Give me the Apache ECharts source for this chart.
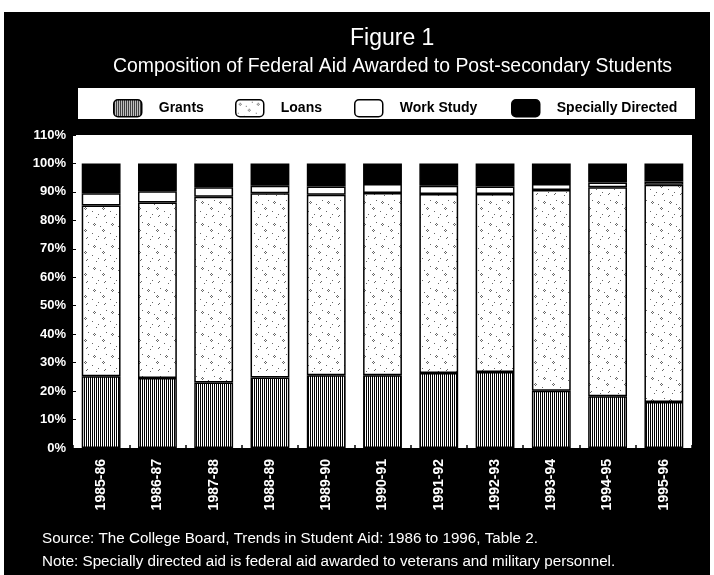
<!DOCTYPE html>
<html>
<head>
<meta charset="utf-8">
<script src="https://cdn.jsdelivr.net/npm/echarts@6/dist/echarts.min.js"></script>
<style>
html, body { margin: 0; padding: 0; background: #fff; }
#chart { width: 714px; height: 575px; }
</style>
</head>
<body>
<div id="chart"></div>
<script>
// 数据 (percent of federal aid)
const years = ['1985-86', '1986-87', '1987-88', '1988-89', '1989-90', '1990-91',
  '1991-92', '1992-93', '1993-94', '1994-95', '1995-96'];
const grants = [25.2, 24.6, 23.0, 24.8, 25.6, 25.6, 26.4, 26.7, 20.1, 18.2, 16.2];
const loans = [60.0, 61.7, 65.3, 64.7, 63.4, 64.0, 62.9, 62.6, 70.6, 73.4, 76.3];
const workStudy = [4.3, 3.9, 3.3, 2.7, 2.9, 3.2, 2.9, 2.6, 2.1, 1.7, 1.2];
const special = [10.5, 9.8, 8.4, 7.8, 8.1, 7.2, 7.8, 8.1, 7.2, 6.7, 6.3];
const yTicks = [0, 10, 20, 30, 40, 50, 60, 70, 80, 90, 100, 110];

const font = '"Liberation Sans", Arial, sans-serif';

// vertical stripes for grants
function stripes() {
  const c = document.createElement('canvas');
  c.width = 2; c.height = 4;
  const ctx = c.getContext('2d');
  ctx.fillStyle = '#fff';
  ctx.fillRect(0, 0, 2, 4);
  ctx.fillStyle = '#000';
  ctx.fillRect(0, 0, 1, 4);
  return c;
}

// light stipple for loans
function stipple() {
  const c = document.createElement('canvas');
  c.width = 18; c.height = 22;
  const ctx = c.getContext('2d');
  ctx.fillStyle = '#fff';
  ctx.fillRect(0, 0, 18, 22);
  ctx.fillStyle = '#666';
  const dots = [[4, 3], [3, 4], [5, 4], [4, 5], [13, 9], [12, 10], [14, 10], [13, 11],
    [8, 16], [2, 13], [16, 2], [10, 6], [6, 19], [15, 17], [14, 18]];
  dots.forEach(d => ctx.fillRect(d[0], d[1], 1, 1));
  return c;
}

const grantFill = { image: stripes(), repeat: 'repeat' };
const loanFill = { image: stipple(), repeat: 'repeat' };

const chart = echarts.init(document.getElementById('chart'));

function bar(name, data, fill) {
  return {
    name: name,
    type: 'bar',
    stack: 'aid',
    data: data,
    barCategoryGap: '31%',
    itemStyle: { color: fill, borderColor: '#000', borderWidth: 1.5 },
    emphasis: { disabled: true }
  };
}

function legendAt(left, name) {
  return {
    left: left,
    top: 94,
    data: [name],
    itemWidth: 28,
    itemHeight: 17,
    itemGap: 0,
    selectedMode: false,
    itemStyle: { borderColor: '#000', borderWidth: 1.5 },
    textStyle: { color: '#000', fontWeight: 'bold', fontSize: 14, fontFamily: font, padding: [0, 0, 0, 12] }
  };
}

chart.setOption({
  backgroundColor: '#000',
  animation: false,
  title: [
    {
      text: 'Figure 1',
      left: 345,
      top: 22,
      textStyle: { color: '#fff', fontSize: 23, fontWeight: 'normal', fontFamily: font }
    },
    {
      text: 'Composition of Federal Aid Awarded to Post-secondary Students',
      left: 108,
      top: 52,
      textStyle: { color: '#fff', fontSize: 19.4, fontWeight: 'normal', fontFamily: font }
    },
    {
      text: 'Source: The College Board, Trends in Student Aid: 1986 to 1996, Table 2.',
      left: 37,
      top: 526,
      textStyle: { color: '#fff', fontSize: 15.2, fontWeight: 'normal', fontFamily: font }
    },
    {
      text: 'Note: Specially directed aid is federal aid awarded to veterans and military personnel.',
      left: 37,
      top: 549,
      textStyle: { color: '#fff', fontSize: 15.2, fontWeight: 'normal', fontFamily: font }
    }
  ],
  graphic: [
    { type: 'rect', shape: { x: 0, y: 0, width: 714, height: 12 }, style: { fill: '#fff' } },
    { type: 'rect', shape: { x: 0, y: 0, width: 4, height: 575 }, style: { fill: '#fff' } },
    { type: 'rect', shape: { x: 710, y: 0, width: 4, height: 575 }, style: { fill: '#fff' } },
    { type: 'rect', shape: { x: 78, y: 88, width: 617, height: 31 }, style: { fill: '#fff' } }
  ],
  legend: [
    legendAt(108, 'Grants'),
    legendAt(230, 'Loans'),
    legendAt(349, 'Work Study'),
    legendAt(506, 'Specially Directed')
  ],
  grid: {
    left: 73,
    right: 22,
    top: 135,
    bottom: 127,
    show: true,
    backgroundColor: '#fff',
    borderWidth: 0
  },
  xAxis: {
    type: 'category',
    data: years,
    axisLine: { show: false },
    axisTick: { show: true, inside: true, length: 3, lineStyle: { color: '#000', width: 1.5 } },
    axisLabel: {
      rotate: 90,
      color: '#fff',
      fontSize: 14,
      fontWeight: 'bold',
      fontFamily: font,
      margin: 11
    }
  },
  yAxis: {
    type: 'value',
    min: yTicks[0],
    max: yTicks[yTicks.length - 1],
    interval: 10,
    axisLine: { show: false },
    splitLine: { show: false },
    axisTick: { show: true, inside: true, length: 3, lineStyle: { color: '#000' } },
    axisLabel: {
      color: '#fff',
      fontSize: 13,
      fontWeight: 'bold',
      fontFamily: font,
      margin: 7,
      formatter: '{value}%'
    }
  },
  series: [
    bar('Grants', grants, grantFill),
    bar('Loans', loans, loanFill),
    bar('Work Study', workStudy, '#fff'),
    bar('Specially Directed', special, '#000')
  ]
});
</script>
</body>
</html>
